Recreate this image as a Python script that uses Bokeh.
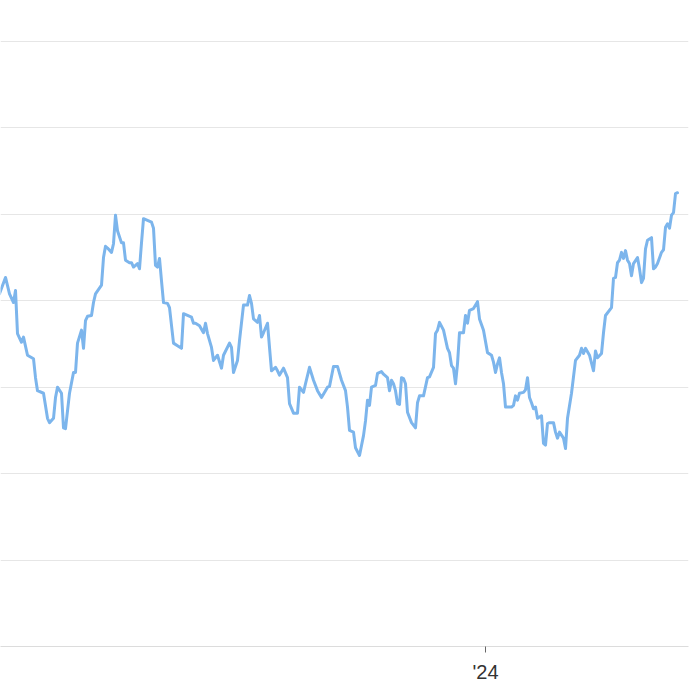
import pandas as pd
from bokeh.plotting import figure
from bokeh.models import Range1d, FixedTicker, ColumnDataSource
from bokeh.embed import file_html
from bokeh.resources import INLINE

# ---- data ----
start_date = "2023-05-04"          # day_offset counts days from this date
day_offset = [
    -1, 2, 4, 6, 7, 8, 10, 11, 13, 16,
    17, 18, 21, 23, 24, 26, 27, 28, 30, 31,
    32, 34, 36, 37, 38, 40, 41, 42, 43, 45,
    46, 47, 50, 51, 52, 53, 55, 56, 57, 58,
    60, 61, 62, 64, 65, 66, 68, 69, 70, 71,
    73, 75, 76, 77, 78, 79, 80, 81, 83, 84,
    86, 88, 90, 91, 93, 95, 96, 97, 99, 101,
    102, 103, 105, 106, 108, 110, 111, 114, 115, 116,
    118, 119, 121, 123, 124, 125, 126, 128, 129, 130,
    131, 133, 134, 135, 137, 138, 139, 141, 143, 144,
    146, 148, 149, 151, 152, 154, 156, 158, 160, 162,
    163, 164, 166, 168, 169, 170, 172, 173, 174, 176,
    177, 179, 181, 182, 183, 184, 185, 187, 188, 190,
    191, 193, 194, 195, 196, 197, 198, 199, 200, 201,
    202, 203, 205, 207, 208, 209, 211, 213, 214, 216,
    217, 218, 219, 221, 223, 224, 225, 226, 227, 228,
    229, 231, 232, 233, 234, 236, 238, 239, 241, 243,
    245, 246, 247, 248, 249, 250, 251, 252, 255, 256,
    257, 258, 259, 261, 262, 263, 264, 265, 266, 267,
    268, 270, 271, 272, 273, 274, 276, 277, 278, 279,
    281, 282, 283, 285, 287, 289, 290, 291, 292, 294,
    296, 297, 298, 300, 301, 302, 305, 306, 307, 308,
    309, 310, 311, 312, 313, 314, 315, 316, 318, 319,
    320, 321, 322, 323, 325, 326, 327, 328, 330, 331,
    332, 333, 334, 335, 336, 337, 338,
]
value = [
    40.8, 42.7, 40.8, 39.8, 41.2, 36.2, 35.2, 35.8, 33.7, 33.3,
    31.1, 29.6, 29.3, 26.4, 25.9, 26.4, 28.8, 30.0, 29.3, 25.3,
    25.2, 29.3, 31.7, 31.7, 35.1, 36.6, 34.5, 37.7, 38.2, 38.3,
    39.8, 40.8, 41.8, 45.0, 46.3, 46.1, 45.6, 46.6, 49.9, 48.1,
    46.7, 46.7, 44.7, 44.4, 44.4, 43.9, 44.3, 43.7, 46.7, 49.5,
    49.3, 49.1, 48.4, 44.1, 43.9, 44.9, 42.3, 39.8, 39.7, 39.2,
    35.1, 34.8, 34.5, 38.5, 38.3, 38.1, 37.4, 37.4, 37.1, 36.3,
    37.4, 36.2, 34.6, 33.1, 33.7, 32.2, 33.7, 35.1, 34.6, 31.7,
    33.1, 35.4, 39.5, 39.5, 40.6, 39.7, 37.9, 37.5, 38.3, 35.8,
    36.3, 37.4, 34.6, 31.9, 32.3, 31.9, 31.4, 32.2, 31.1, 28.1,
    27.0, 27.0, 30.0, 29.4, 30.4, 32.3, 30.8, 29.6, 28.8, 29.6,
    30.0, 30.1, 32.4, 32.4, 31.6, 30.8, 29.6, 27.7, 25.0, 24.8,
    23.0, 22.1, 24.4, 26.1, 28.5, 27.9, 30.0, 30.2, 31.6, 31.8,
    31.5, 31.1, 29.6, 30.8, 30.4, 29.6, 28.1, 28.0, 31.1, 31.0,
    30.4, 27.1, 25.9, 25.3, 28.2, 29.0, 29.0, 31.1, 31.2, 32.3,
    36.2, 36.6, 37.5, 36.6, 34.5, 34.0, 32.5, 32.2, 30.4, 32.7,
    36.3, 36.3, 38.3, 37.4, 38.9, 39.1, 39.9, 37.9, 36.6, 34.0,
    33.7, 32.9, 31.7, 32.7, 33.4, 31.7, 30.4, 27.7, 27.7, 27.9,
    29.0, 28.5, 29.3, 29.4, 29.7, 31.1, 28.8, 28.2, 27.5, 27.7,
    26.4, 26.7, 23.5, 23.3, 25.8, 25.9, 25.9, 24.8, 24.1, 24.8,
    24.1, 22.9, 26.4, 29.3, 33.1, 33.7, 34.5, 33.9, 34.5, 33.7,
    31.9, 34.2, 33.4, 33.9, 36.3, 38.3, 39.2, 42.6, 42.7, 44.4,
    44.7, 45.6, 44.9, 45.8, 44.7, 44.3, 42.9, 44.3, 45.0, 43.7,
    42.1, 42.6, 46.0, 47.0, 47.3, 43.7, 43.9, 44.3, 45.6, 45.9,
    48.5, 48.9, 48.4, 49.9, 50.2, 52.4, 52.5,
]
grid_values = [0, 10, 20, 30, 40, 50, 60, 70]
tick_dates = ["2024-01-01"]
tick_labels = ["'24"]

assert len(day_offset) == len(value)

dates = pd.Timestamp(start_date) + pd.to_timedelta(day_offset, unit="D")
src = ColumnDataSource(dict(date=dates, value=value))

x_start = pd.Timestamp(start_date) - pd.Timedelta(hours=12)
x_end = pd.Timestamp(start_date) + pd.Timedelta(days=343.5)

p = figure(
    width=700, height=700,
    x_axis_type="datetime", y_axis_location=None,
    x_range=Range1d(x_start, x_end), y_range=Range1d(0, 74.74),
    output_backend="svg", toolbar_location=None,
    min_border_left=0, min_border_right=12, min_border_top=0, min_border_bottom=54,
)
p.outline_line_color = None
p.background_fill_color = "white"
p.border_fill_color = "white"

p.xgrid.visible = False
p.ygrid.ticker = FixedTicker(ticks=grid_values)
p.ygrid.grid_line_color = "#e6e6e6"
p.ygrid.grid_line_width = 1

tick_ms = [pd.Timestamp(d).value / 1e6 for d in tick_dates]
p.xaxis.ticker = FixedTicker(ticks=tick_ms)
p.xaxis.major_label_overrides = {t: lab for t, lab in zip(tick_ms, tick_labels)}
p.xaxis.axis_line_color = "#dcdcdc"
p.xaxis.major_tick_line_color = "#666666"
p.xaxis.major_tick_in = 0
p.xaxis.major_tick_out = 6
p.xaxis.minor_tick_line_color = None
p.xaxis.major_label_standoff = 8
p.xaxis.major_label_text_font = "Liberation Sans"
p.xaxis.major_label_text_font_size = "20px"
p.xaxis.major_label_text_color = "#333333"

p.line("date", "value", source=src, line_color="#7cb5ec", line_width=3,
       line_join="round", line_cap="round")

open("out.html", "w").write(file_html(p, INLINE))
